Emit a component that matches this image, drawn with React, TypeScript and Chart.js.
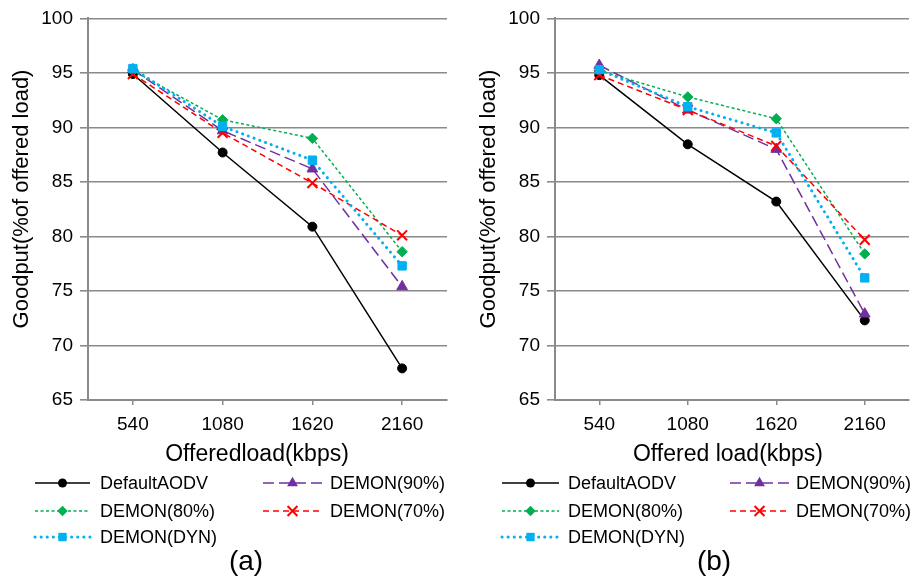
import React, { useEffect, useRef } from 'react';
import { Chart, registerables } from 'chart.js';

Chart.register(...registerables);

// ---------- data ----------
const categories = ['540', '1080', '1620', '2160'];
const seriesNames = ['DefaultAODV', 'DEMON(90%)', 'DEMON(80%)', 'DEMON(70%)', 'DEMON(DYN)'];

// panel (a)
const aDefaultAODV = [94.9, 87.7, 80.9, 67.9];
const aDemon90 = [95.3, 89.7, 86.2, 75.4];
const aDemon80 = [95.2, 90.7, 89.0, 78.6];
const aDemon70 = [94.9, 89.5, 84.9, 80.1];
const aDemonDyn = [95.4, 90.1, 87.0, 77.3];

// panel (b)
const bDefaultAODV = [94.8, 88.45, 83.2, 72.3];
const bDemon90 = [95.7, 91.6, 88.0, 72.9];
const bDemon80 = [95.2, 92.8, 90.8, 78.4];
const bDemon70 = [94.8, 91.6, 88.3, 79.7];
const bDemonDyn = [95.3, 91.9, 89.5, 76.2];

const yMin = 65;
const yMax = 100;
const yStep = 5;
const yTitle = 'Goodput(%of offered load)';
const xTitleA = 'Offeredload(kbps)';
const xTitleB = 'Offered load(kbps)';
const captionA = '(a)';
const captionB = '(b)';

// ---------- styles ----------
const FONT = '"Liberation Sans", Arial, Helvetica, sans-serif';
const GRID = '#8a8a8a';

type SeriesStyle = {
  color: string;
  dash: number[];
  width: number;
  cap: CanvasLineCap;
  point: string;
  radius: number;
  pointBorder: number;
};

const styles: SeriesStyle[] = [
  { color: '#000000', dash: [], width: 1.5, cap: 'butt', point: 'circle', radius: 4.5, pointBorder: 1 },
  { color: '#7030A0', dash: [11, 5], width: 1.5, cap: 'butt', point: 'triangle', radius: 6.2, pointBorder: 1 },
  { color: '#00B050', dash: [3, 2.5], width: 1.5, cap: 'butt', point: 'rectRot', radius: 5.2, pointBorder: 1 },
  { color: '#FF0000', dash: [6, 4], width: 1.5, cap: 'butt', point: 'crossRot', radius: 7, pointBorder: 2 },
  { color: '#00B0F0', dash: [0.1, 6], width: 3, cap: 'round', point: 'rect', radius: 5.9, pointBorder: 1 },
];

function drawMarker(ctx: CanvasRenderingContext2D, s: SeriesStyle, x: number, y: number) {
  ctx.save();
  ctx.setLineDash([]);
  ctx.fillStyle = s.color;
  ctx.strokeStyle = s.color;
  ctx.lineWidth = s.pointBorder;
  const r = s.radius;
  ctx.beginPath();
  if (s.point === 'circle') {
    ctx.arc(x, y, r, 0, Math.PI * 2);
    ctx.fill();
  } else if (s.point === 'triangle') {
    const h = r * 1.5;
    ctx.moveTo(x, y - h * 0.66);
    ctx.lineTo(x + r * 0.87, y + h * 0.34);
    ctx.lineTo(x - r * 0.87, y + h * 0.34);
    ctx.closePath();
    ctx.fill();
  } else if (s.point === 'rectRot') {
    ctx.moveTo(x, y - r);
    ctx.lineTo(x + r, y);
    ctx.lineTo(x, y + r);
    ctx.lineTo(x - r, y);
    ctx.closePath();
    ctx.fill();
  } else if (s.point === 'rect') {
    const h = r * Math.SQRT1_2;
    ctx.rect(x - h, y - h, 2 * h, 2 * h);
    ctx.fill();
  } else if (s.point === 'crossRot') {
    const h = r * Math.SQRT1_2;
    ctx.moveTo(x - h, y - h);
    ctx.lineTo(x + h, y + h);
    ctx.moveTo(x + h, y - h);
    ctx.lineTo(x - h, y + h);
    ctx.stroke();
  }
  ctx.restore();
}

type Slot = { x0: number; x1: number; tx: number; y: number };

type PanelCfg = {
  left: number;
  width: number;
  yAxisWidth: number;
  padRight: number;
  series: number[][];
  xTitle: string;
  xTitleX: number;
  yTitleX: number;
  caption: string;
  captionX: number;
  slots: Slot[];
};

const decorPlugin = {
  id: 'decor',
  afterDraw(chart: any, _args: any, opts: any) {
    const ctx: CanvasRenderingContext2D = chart.ctx;
    ctx.save();
    ctx.fillStyle = '#000';
    // y title
    ctx.save();
    ctx.font = `22px ${FONT}`;
    ctx.translate(opts.yTitleX, 199);
    ctx.rotate(-Math.PI / 2);
    ctx.textAlign = 'center';
    ctx.textBaseline = 'middle';
    ctx.fillText(opts.yTitle, 0, 0);
    ctx.restore();
    // x title
    ctx.font = `23px ${FONT}`;
    ctx.textAlign = 'center';
    ctx.textBaseline = 'middle';
    ctx.fillText(opts.xTitle, opts.xTitleX, 455);
    // legend
    ctx.font = `18px ${FONT}`;
    ctx.textAlign = 'left';
    chart.data.datasets.forEach((ds: any, i: number) => {
      const slot: Slot = opts.slots[i];
      const s = styles[i];
      ctx.save();
      ctx.strokeStyle = s.color;
      ctx.lineWidth = s.width;
      ctx.lineCap = s.cap;
      ctx.setLineDash(s.dash);
      ctx.beginPath();
      ctx.moveTo(slot.x0, slot.y);
      ctx.lineTo(slot.x1, slot.y);
      ctx.stroke();
      ctx.restore();
      drawMarker(ctx, s, (slot.x0 + slot.x1) / 2, slot.y);
      ctx.fillStyle = '#000';
      ctx.fillText(ds.label, slot.tx, slot.y + 1);
    });
    // caption
    ctx.font = `28px ${FONT}`;
    ctx.textAlign = 'center';
    ctx.fillText(opts.caption, opts.captionX, 562);
    ctx.restore();
  },
};

function Panel({ cfg }: { cfg: PanelCfg }) {
  const ref = useRef<HTMLCanvasElement | null>(null);
  useEffect(() => {
    if (!ref.current) return;
    const chart = new Chart(ref.current, {
      type: 'line',
      data: {
        labels: categories,
        datasets: cfg.series.map((vals, i) => ({
          label: seriesNames[i],
          data: vals,
          borderColor: styles[i].color,
          backgroundColor: styles[i].color,
          borderWidth: styles[i].width,
          borderDash: styles[i].dash,
          borderCapStyle: styles[i].cap,
          pointStyle: styles[i].point as any,
          pointRadius: styles[i].radius,
          pointBackgroundColor: styles[i].color,
          pointBorderColor: styles[i].color,
          pointBorderWidth: styles[i].pointBorder,
          tension: 0,
          fill: false,
          order: 5 - i,
        })),
      },
      options: {
        responsive: false,
        animation: false,
        devicePixelRatio: 1,
        layout: { padding: { top: 18, left: 0, right: cfg.padRight, bottom: 0 } },
        plugins: {
          legend: { display: false },
          tooltip: { enabled: false },
          decor: {
            yTitle,
            yTitleX: cfg.yTitleX,
            xTitle: cfg.xTitle,
            xTitleX: cfg.xTitleX,
            caption: cfg.caption,
            captionX: cfg.captionX,
            slots: cfg.slots,
          },
        } as any,
        scales: {
          x: {
            type: 'category',
            offset: true,
            grid: {
              drawOnChartArea: false,
              drawTicks: true,
              tickLength: 5,
              color: GRID,
              lineWidth: 1.5,
            },
            border: { color: GRID, width: 2 },
            ticks: {
              color: '#000',
              font: { family: FONT, size: 19 },
              padding: 8,
              maxRotation: 0,
            },
            afterFit: (scale: any) => {
              scale.height = 185;
            },
          },
          y: {
            min: yMin,
            max: yMax,
            grid: {
              color: GRID,
              lineWidth: 1.6,
              tickLength: 8,
            },
            border: { color: GRID, width: 2 },
            ticks: {
              stepSize: yStep,
              color: '#000',
              font: { family: FONT, size: 19 },
              padding: 7,
            },
            afterFit: (scale: any) => {
              scale.width = cfg.yAxisWidth;
            },
          },
        },
      },
      plugins: [decorPlugin],
    });
    return () => chart.destroy();
  }, [cfg]);
  return (
    <canvas
      ref={ref}
      width={cfg.width}
      height={585}
      style={{ position: 'absolute', left: cfg.left, top: 0, width: cfg.width, height: 585 }}
    />
  );
}

const panelA: PanelCfg = {
  left: 0,
  width: 456,
  yAxisWidth: 88,
  padRight: 8,
  series: [aDefaultAODV, aDemon90, aDemon80, aDemon70, aDemonDyn],
  xTitle: xTitleA,
  xTitleX: 257,
  yTitleX: 22,
  caption: captionA,
  captionX: 246,
  slots: [
    { x0: 35, x1: 90, tx: 100, y: 483 },
    { x0: 263, x1: 322, tx: 330, y: 483 },
    { x0: 35, x1: 90, tx: 100, y: 511 },
    { x0: 263, x1: 322, tx: 330, y: 511 },
    { x0: 35, x1: 90, tx: 100, y: 537 },
  ],
};

const panelB: PanelCfg = {
  left: 456,
  width: 462,
  yAxisWidth: 99,
  padRight: 1,
  series: [bDefaultAODV, bDemon90, bDemon80, bDemon70, bDemonDyn],
  xTitle: xTitleB,
  xTitleX: 272,
  yTitleX: 33,
  caption: captionB,
  captionX: 258,
  slots: [
    { x0: 46, x1: 103, tx: 112, y: 483 },
    { x0: 274, x1: 333, tx: 340, y: 483 },
    { x0: 46, x1: 103, tx: 112, y: 511 },
    { x0: 274, x1: 333, tx: 340, y: 511 },
    { x0: 46, x1: 103, tx: 112, y: 537 },
  ],
};

export default function App() {
  return (
    <div
      style={{
        position: 'fixed',
        left: 0,
        top: 0,
        width: 912,
        height: 585,
        overflow: 'hidden',
        background: '#fff',
      }}
    >
      <Panel cfg={panelA} />
      <Panel cfg={panelB} />
    </div>
  );
}
